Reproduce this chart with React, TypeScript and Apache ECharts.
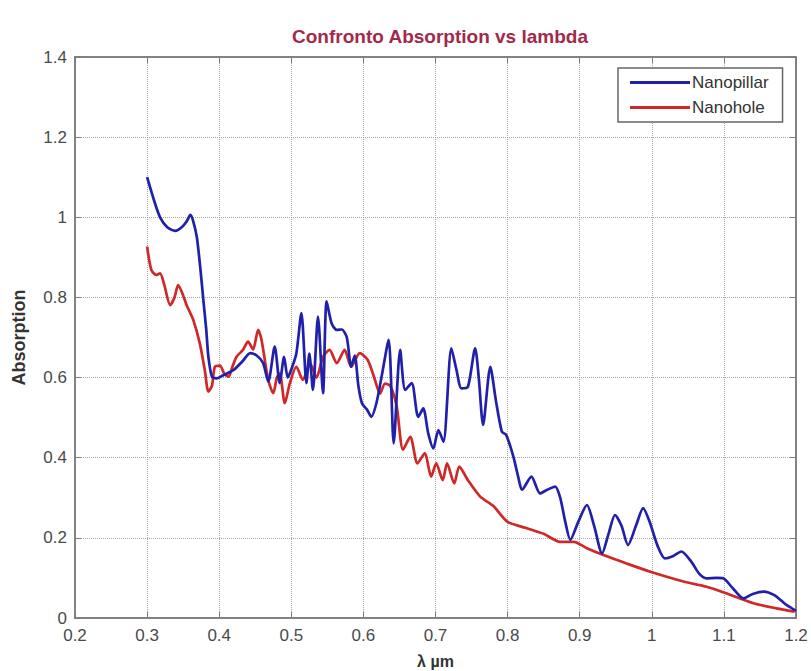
import React, { useEffect, useRef } from "react";
import * as echarts from "echarts";

const titleText = "Confronto Absorption vs lambda";
const xAxisName = "λ µm";
const yAxisName = "Absorption";
const seriesNames = ["Nanopillar", "Nanohole"];

const nanopillarX = [
  0.3, 0.31, 0.318, 0.328, 0.339, 0.348, 0.355, 0.36, 0.364, 0.369, 0.374, 0.378, 0.382, 0.385, 0.39,
  0.397, 0.405, 0.42, 0.432, 0.443, 0.452, 0.461, 0.468, 0.477, 0.484, 0.49, 0.495, 0.5, 0.507, 0.514,
  0.521, 0.525, 0.53, 0.537, 0.544, 0.549, 0.556, 0.563, 0.57, 0.577, 0.583, 0.588, 0.593, 0.598, 0.605,
  0.611, 0.618, 0.625, 0.635, 0.642, 0.651, 0.658, 0.667, 0.676, 0.683, 0.69, 0.697, 0.704, 0.711, 0.722,
  0.729, 0.736, 0.745, 0.755, 0.76, 0.766, 0.776, 0.784, 0.792, 0.798, 0.808, 0.815, 0.82, 0.833, 0.845,
  0.855, 0.866, 0.873, 0.88, 0.887, 0.898, 0.91, 0.92, 0.931, 0.94, 0.949, 0.958, 0.967, 0.978, 0.988,
  0.997, 1.008, 1.018, 1.03, 1.041, 1.055, 1.066, 1.076, 1.09, 1.099, 1.112, 1.127, 1.14, 1.155, 1.17,
  1.185, 1.2,
];
const nanopillarY = [
  1.1, 1.04, 1.0, 0.975, 0.966, 0.975, 0.99, 1.006, 0.99, 0.95, 0.87, 0.794, 0.72, 0.652, 0.602,
  0.598, 0.605, 0.619, 0.64, 0.661, 0.655, 0.636, 0.59, 0.677, 0.586, 0.652, 0.6, 0.62, 0.66, 0.761,
  0.586, 0.66, 0.569, 0.752, 0.561, 0.79, 0.735, 0.719, 0.72, 0.7, 0.627, 0.655, 0.58, 0.536, 0.52,
  0.502, 0.536, 0.6, 0.694, 0.436, 0.669, 0.569, 0.586, 0.502, 0.523, 0.46, 0.423, 0.469, 0.44, 0.673,
  0.62, 0.573, 0.577, 0.673, 0.6, 0.482, 0.627, 0.54, 0.465, 0.457, 0.403, 0.35, 0.32, 0.353, 0.311,
  0.32, 0.328, 0.3, 0.24, 0.195, 0.24, 0.282, 0.23, 0.161, 0.21, 0.257, 0.23, 0.182, 0.23, 0.274,
  0.24, 0.18, 0.149, 0.155, 0.166, 0.14, 0.11, 0.099, 0.1, 0.099, 0.075, 0.049, 0.06, 0.066, 0.057,
  0.035, 0.018,
];

const nanoholeX = [
  0.3, 0.306, 0.313, 0.318, 0.324, 0.332, 0.338, 0.343, 0.349, 0.355, 0.364, 0.373, 0.38, 0.385, 0.39,
  0.394, 0.401, 0.407, 0.413, 0.418, 0.424, 0.433, 0.44, 0.447, 0.454, 0.458, 0.461, 0.468, 0.475, 0.48,
  0.484, 0.491, 0.498, 0.507, 0.516, 0.526, 0.535, 0.544, 0.553, 0.563, 0.574, 0.583, 0.595, 0.606, 0.615,
  0.623, 0.63, 0.637, 0.646, 0.655, 0.665, 0.675, 0.685, 0.694, 0.701, 0.71, 0.716, 0.726, 0.733, 0.745,
  0.762, 0.78, 0.8, 0.825, 0.85, 0.873, 0.892, 0.91, 0.933, 0.965, 0.997, 1.044, 1.076, 1.103, 1.141,
  1.173, 1.198,
];
const nanoholeY = [
  0.927, 0.868, 0.856, 0.86, 0.83, 0.781, 0.8, 0.831, 0.81, 0.78, 0.744, 0.686, 0.619, 0.565, 0.58,
  0.627, 0.63, 0.61, 0.602, 0.625, 0.652, 0.669, 0.69, 0.67, 0.719, 0.7, 0.67, 0.594, 0.561, 0.6,
  0.61, 0.536, 0.586, 0.627, 0.594, 0.636, 0.6, 0.652, 0.669, 0.636, 0.669, 0.627, 0.661, 0.644, 0.6,
  0.56, 0.585, 0.58, 0.53, 0.42, 0.452, 0.386, 0.411, 0.353, 0.386, 0.344, 0.386, 0.336, 0.378, 0.344,
  0.303, 0.28, 0.24, 0.225, 0.21, 0.19, 0.19, 0.174, 0.157, 0.136, 0.116, 0.091, 0.078, 0.062, 0.037,
  0.024, 0.016,
];

const zip = (xs: number[], ys: number[]) => xs.map((x, i) => [x, ys[i]]);

export default function App() {
  const ref = useRef<HTMLDivElement>(null);
  useEffect(() => {
    if (!ref.current) return;
    const chart = echarts.init(ref.current, null, { renderer: "svg" });
    const font = "Liberation Sans, Arial, sans-serif";
    const lineColor = "#7a7a7a";
    const axisLine = { show: true, onZero: false, lineStyle: { color: lineColor, width: 1.5 } };
    const tick = { show: true, inside: true, length: 6, lineStyle: { color: lineColor, width: 1 } };
    const split = { show: true, lineStyle: { color: "#aaaaaa", type: "dotted", width: 1 } };
    chart.setOption({
      animation: false,
      backgroundColor: "#ffffff",
      title: {
        text: titleText,
        left: 435,
        textAlign: "center",
        top: 22,
        textStyle: { fontFamily: font, fontSize: 19, fontWeight: "bold", color: "#a3294a" },
      },
      legend: {
        left: 618,
        top: 68,
        orient: "vertical",
        backgroundColor: "#ffffff",
        borderColor: "#666666",
        borderWidth: 1.5,
        borderRadius: 0,
        padding: [6, 14, 6, 12],
        icon: "rect",
        itemWidth: 60,
        itemHeight: 3,
        itemGap: 8,
        textStyle: { fontFamily: font, fontSize: 17, color: "#333333", padding: [0, 0, 0, -3] },
        data: seriesNames,
      },
      grid: {
        left: 75,
        right: 15,
        top: 57,
        bottom: 53,
        containLabel: false,
        outerBoundsMode: "none",
        show: true,
        borderColor: lineColor,
        borderWidth: 1.5,
        backgroundColor: "transparent",
      },
      xAxis: [
        {
          type: "value",
          min: 0.2,
          max: 1.2,
          interval: 0.1,
          name: xAxisName,
          nameLocation: "middle",
          nameGap: 35,
          nameTextStyle: { fontFamily: font, fontSize: 16, fontWeight: "bold", color: "#333333" },
          axisLine,
          axisTick: tick,
          splitLine: split,
          axisLabel: { fontFamily: font, fontSize: 17, color: "#4a4a4a", margin: 9 },
        },
        {
          type: "value",
          position: "top",
          min: 0.2,
          max: 1.2,
          interval: 0.1,
          axisLine,
          axisTick: tick,
          splitLine: { show: false },
          axisLabel: { show: false },
        },
      ],
      yAxis: [
        {
          type: "value",
          min: 0,
          max: 1.4,
          interval: 0.2,
          name: yAxisName,
          nameLocation: "middle",
          nameGap: 47,
          nameTextStyle: { fontFamily: font, fontSize: 18, fontWeight: "bold", color: "#333333" },
          axisLine,
          axisTick: tick,
          splitLine: split,
          axisLabel: { fontFamily: font, fontSize: 17, color: "#4a4a4a", margin: 8 },
        },
        {
          type: "value",
          position: "right",
          min: 0,
          max: 1.4,
          interval: 0.2,
          axisLine,
          axisTick: tick,
          splitLine: { show: false },
          axisLabel: { show: false },
        },
      ],
      series: [
        {
          name: seriesNames[0],
          type: "line",
          data: zip(nanopillarX, nanopillarY),
          symbol: "none",
          smooth: 0.25,
          lineStyle: { color: "#2020aa", width: 2.7 },
          itemStyle: { color: "#2020aa" },
          z: 3,
        },
        {
          name: seriesNames[1],
          type: "line",
          data: zip(nanoholeX, nanoholeY),
          symbol: "none",
          smooth: 0.25,
          lineStyle: { color: "#d02828", width: 2.7 },
          itemStyle: { color: "#d02828" },
          z: 2,
        },
      ],
    });
    return () => chart.dispose();
  }, []);
  return (
    <div
      ref={ref}
      style={{ position: "absolute", left: 0, top: 0, width: 811, height: 671 }}
    />
  );
}
